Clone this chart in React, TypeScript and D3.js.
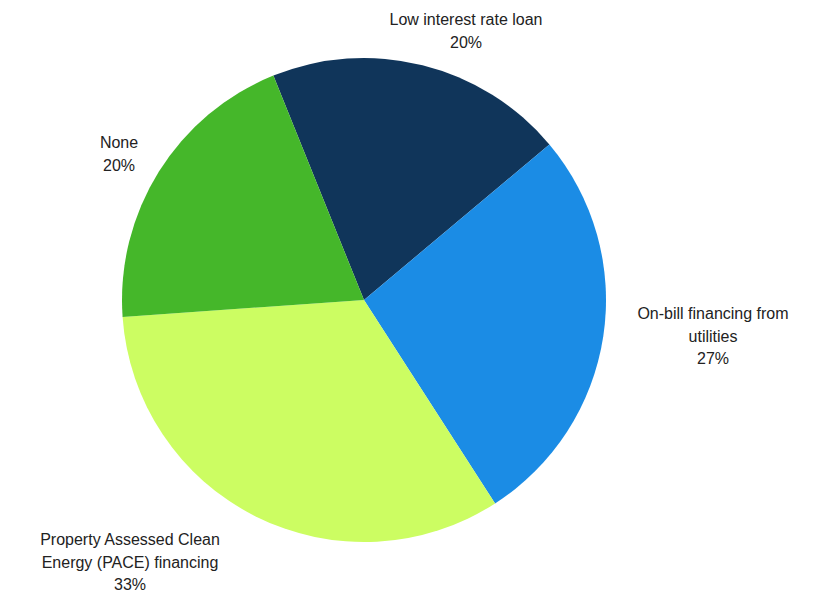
import React from "react";
import * as d3 from "d3";

const categories = [
  "Low interest rate loan",
  "On-bill financing from utilities",
  "Property Assessed Clean Energy (PACE) financing",
  "None",
];
const values = [20, 27, 33, 20];
const labelLines = [
  ["Low interest rate loan", "20%"],
  ["On-bill financing from", "utilities", "27%"],
  ["Property Assessed Clean", "Energy (PACE) financing", "33%"],
  ["None", "20%"],
];
const colors = ["#10355a", "#1b8ce5", "#ccfd62", "#45b72a"];
const labelAnchors: [number, number][] = [
  [466, 25],
  [713, 319],
  [130, 545],
  [119, 148],
];

const W = 831;
const H = 595;
const cx = 364;
const cy = 300;
const R = 242;

export default function App() {
  const pie = d3
    .pie<number>()
    .sort(null)
    .startAngle((-22 * Math.PI) / 180)
    .endAngle((338 * Math.PI) / 180);
  const arcs = pie(values);
  const arc = d3.arc<d3.PieArcDatum<number>>().innerRadius(0).outerRadius(R);
  return (
    <svg
      width={W}
      height={H}
      style={{ position: "absolute", left: 0, top: 0, background: "#fff" }}
      fontFamily="'Liberation Sans', Arial, sans-serif"
    >
      <g transform={`translate(${cx},${cy})`}>
        {arcs.map((a, i) => (
          <path key={categories[i]} d={arc(a) || ""} fill={colors[i]} />
        ))}
      </g>
      {labelLines.map((lines, i) => (
        <text
          key={i}
          x={labelAnchors[i][0]}
          y={labelAnchors[i][1]}
          textAnchor="middle"
          fontSize={16}
          fill="#222"
        >
          {lines.map((l, j) => (
            <tspan key={j} x={labelAnchors[i][0]} dy={j === 0 ? 0 : 22.5}>
              {l}
            </tspan>
          ))}
        </text>
      ))}
    </svg>
  );
}
